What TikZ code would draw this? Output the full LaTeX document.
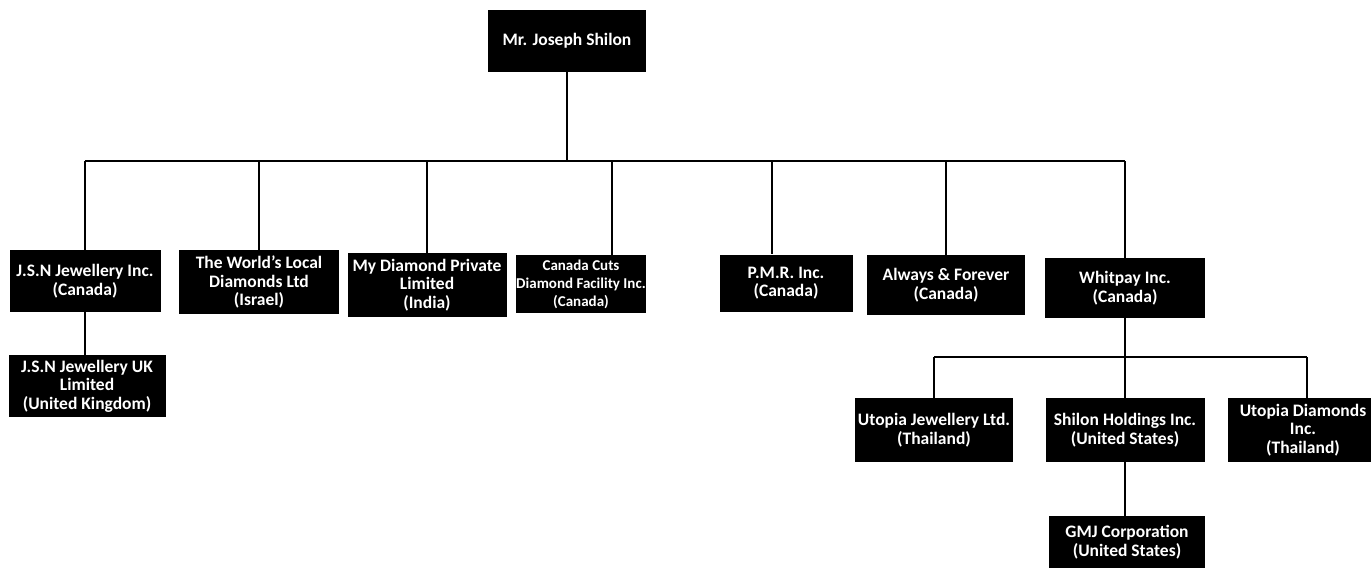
\documentclass[tikz,border=0pt]{standalone}
\usepackage{fontspec}
\setmainfont{Carlito}
\usetikzlibrary{calc}
\tikzset{
  orgbox/.style={fill=black, text=white, align=center, inner sep=0pt,
    font=\bfseries\fontsize{17.5}{18.5}\selectfont},
  conn/.style={draw=black, line width=1.3pt}
}
\begin{document}
\begin{tikzpicture}[x=1pt,y=-1pt]
\useasboundingbox (0,0) rectangle (1371,571);
% nodes
\node[orgbox, minimum width=158, minimum height=62] (top) at (567,41) {Mr. Joseph Shilon};
\node[orgbox, minimum width=151, minimum height=62] (jsn) at (85,281) {J.S.N Jewellery Inc.\\(Canada)};
\node[orgbox, minimum width=160, minimum height=64] (world) at (259,282) {The World's Local\\Diamonds Ltd\\(Israel)};
\node[orgbox, minimum width=159, minimum height=64] (mydia) at (427,285) {My Diamond Private\\Limited\\(India)};
\node[orgbox, minimum width=128, minimum height=58, font=\bfseries\fontsize{15}{18}\selectfont] (cuts) at (581,284) {Canada Cuts\\Diamond Facility Inc.\\(Canada)};
\node[orgbox, minimum width=133, minimum height=57] (pmr) at (786,283) {P.M.R. Inc.\\(Canada)};
\node[orgbox, minimum width=158, minimum height=60] (always) at (946,285) {Always \& Forever\\(Canada)};
\node[orgbox, minimum width=160, minimum height=60] (whit) at (1125,288) {Whitpay Inc.\\(Canada)};
\node[orgbox, minimum width=157, minimum height=62] (jsnuk) at (87,386) {J.S.N Jewellery UK\\Limited\\(United Kingdom)};
\node[orgbox, minimum width=158, minimum height=64] (utj) at (934,430) {Utopia Jewellery Ltd.\\(Thailand)};
\node[orgbox, minimum width=159, minimum height=64] (shil) at (1125,430) {Shilon Holdings Inc.\\(United States)};
\node[orgbox, minimum width=150, minimum height=64] (utd) at (1303,430) {Utopia Diamonds\\Inc.\\(Thailand)};
\node[orgbox, minimum width=156, minimum height=52] (gmj) at (1127,542) {GMJ Corporation\\(United States)};
% helper coordinates
\coordinate (bus) at (567,161);
\coordinate (bus2) at (1125,357);
\coordinate (cutsT) at ([xshift=31pt]cuts.north);
\coordinate (pmrT) at ([xshift=-14pt]pmr.north);
\coordinate (utdT) at ([xshift=4pt]utd.north);
% connectors
\draw[conn] (top.south) -- (bus);
\draw[conn] (bus -| jsn.north) -- (bus -| whit.north);
\draw[conn] (bus -| jsn.north) -- (jsn.north);
\draw[conn] (bus -| world.north) -- (world.north);
\draw[conn] (bus -| mydia.north) -- (mydia.north);
\draw[conn] (bus -| cutsT) -- (cutsT);
\draw[conn] (bus -| pmrT) -- (pmrT);
\draw[conn] (bus -| always.north) -- (always.north);
\draw[conn] (bus -| whit.north) -- (whit.north);
\draw[conn] (jsn.south) -- (jsnuk.north -| jsn.south);
\draw[conn] (whit.south) -- (bus2);
\draw[conn] (bus2 -| utj.north) -- (bus2 -| utdT);
\draw[conn] (bus2 -| utj.north) -- (utj.north);
\draw[conn] (bus2 -| utdT) -- (utdT);
\draw[conn] (shil.north |- bus2) -- (shil.north);
\draw[conn] (shil.south) -- (gmj.north -| shil.south);
\end{tikzpicture}
\end{document}
